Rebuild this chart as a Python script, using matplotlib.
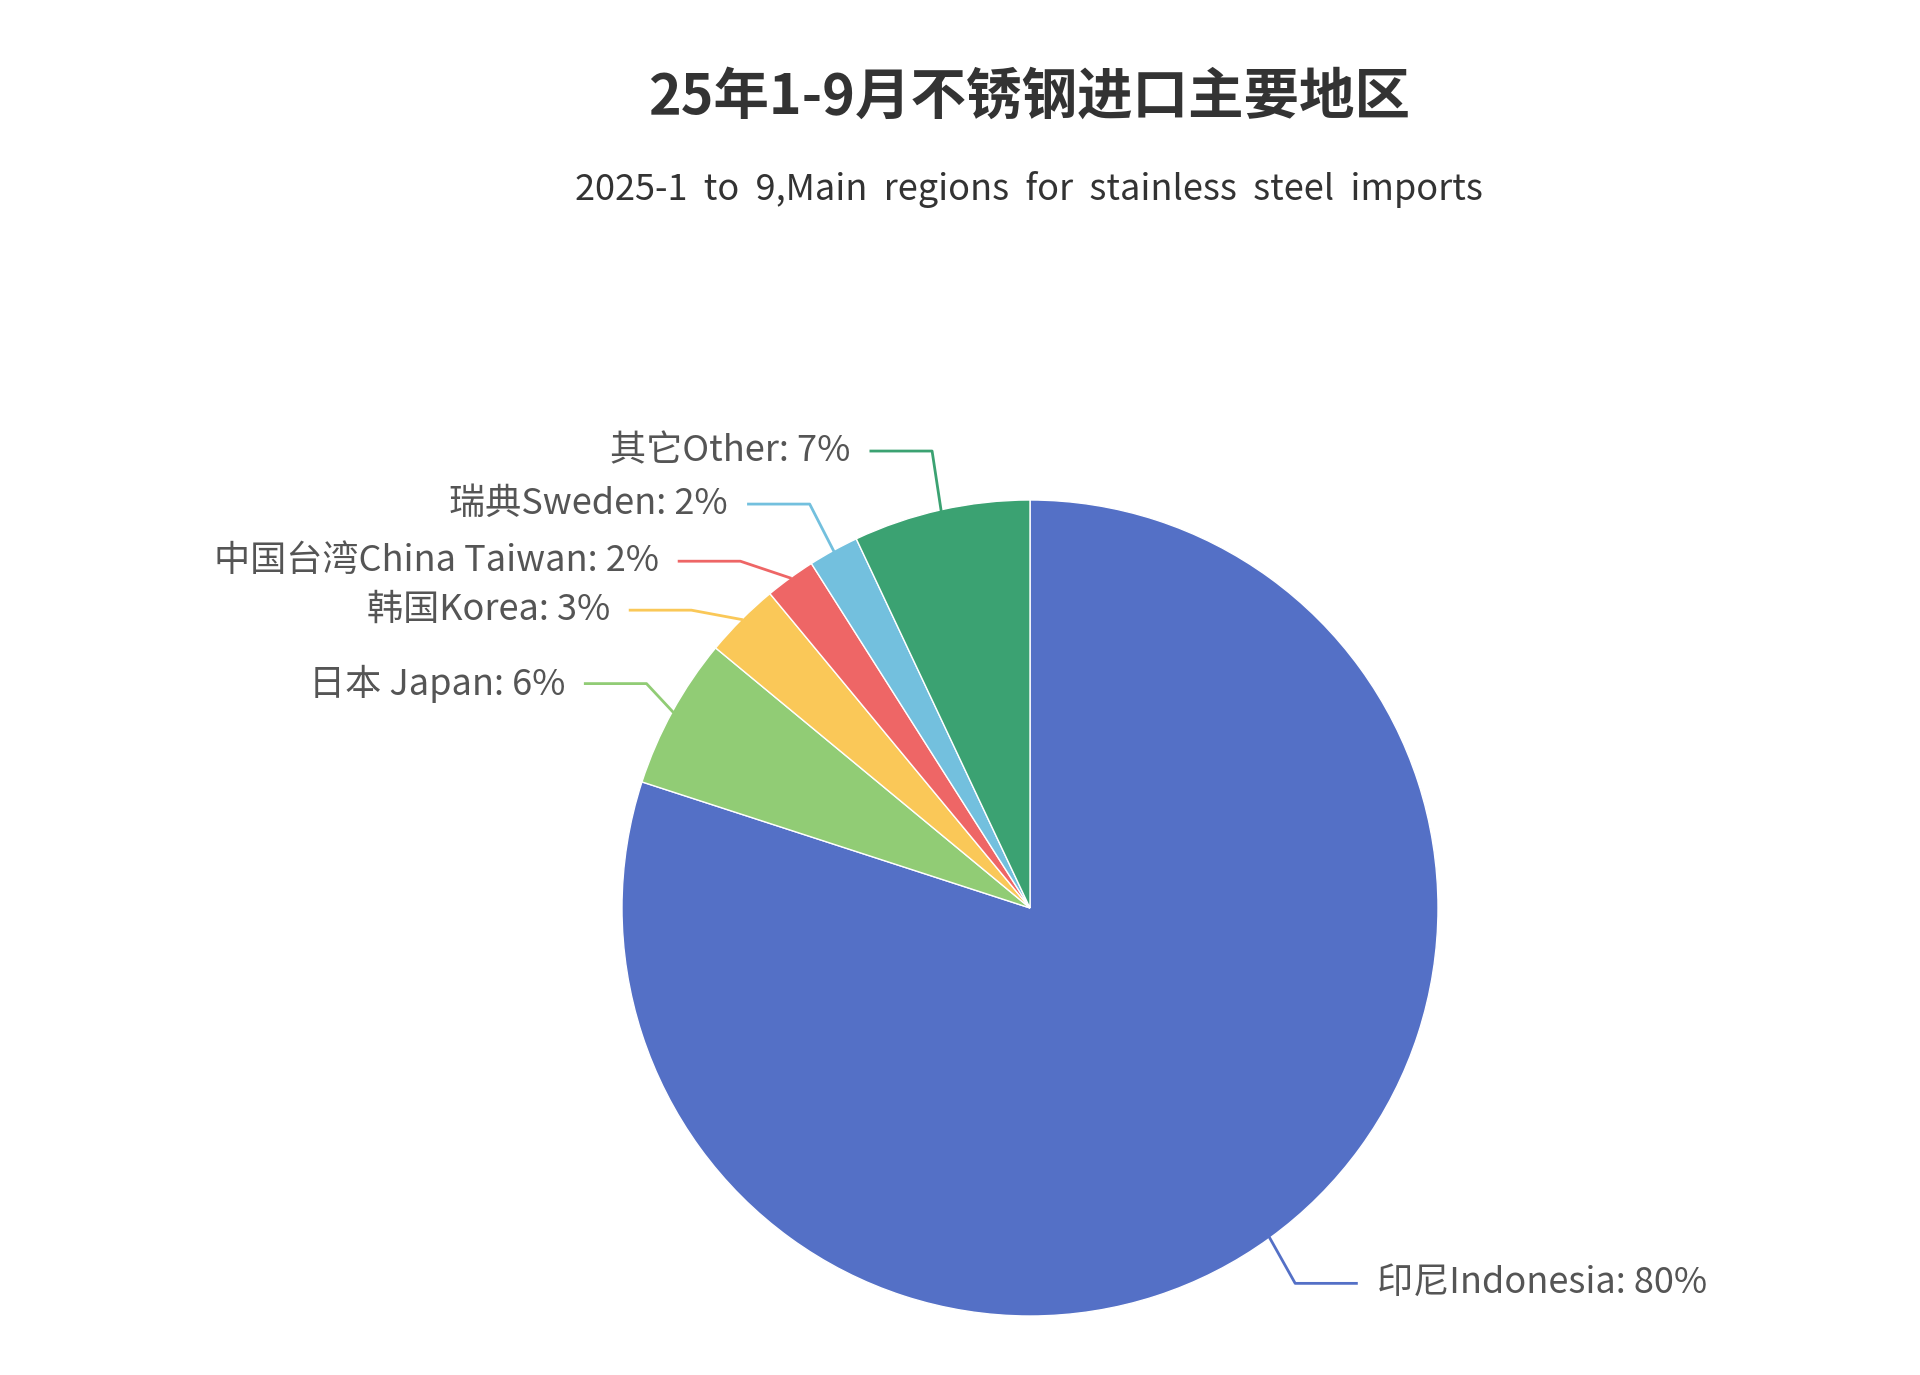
import numpy as np
import matplotlib
matplotlib.use("Agg")
import matplotlib.pyplot as plt

plt.rcParams['font.family'] = ['Noto Sans CJK SC', 'DejaVu Sans']

# data, clockwise from 12 o'clock
names = ["印尼Indonesia", "日本 Japan", "韩国Korea", "中国台湾China Taiwan", "瑞典Sweden", "其它Other"]
values = [80, 6, 3, 2, 2, 7]
colors = ["#5470c6", "#91cc75", "#fac858", "#ee6666", "#73c0de", "#3ba272"]
# label positions (pie radius units, center = 0,0)
label_pos = [(0.85, -0.92), (-1.14, 0.55), (-1.03, 0.73), (-0.91, 0.85), (-0.74, 0.99), (-0.44, 1.12)]

W, H = 1920, 1375
cx, cy, R = 1030, 908, 408
fig = plt.figure(figsize=(W/100, H/100), dpi=100)
ax = fig.add_axes([0, 0, 1, 1])
ax.set_xlim(-cx/R, (W-cx)/R)
ax.set_ylim(-(H-cy)/R, cy/R)
ax.axis('off')

wedges, _ = ax.pie(values, colors=colors, startangle=90, counterclock=False,
                   radius=1, center=(0, 0), frame=True,
                   wedgeprops=dict(edgecolor='white', linewidth=1))
ax.set_xlim(-cx/R, (W-cx)/R)
ax.set_ylim(-(H-cy)/R, cy/R)
ax.axis('off')

for w, name, v, c, (xt, yt) in zip(wedges, names, values, colors, label_pos):
    mid = np.deg2rad((w.theta1 + w.theta2) / 2)
    ex, ey = np.cos(mid), np.sin(mid)
    left = xt < 0
    elbow = xt + 0.2 if left else xt - 0.2
    end = xt + 0.05 if left else xt - 0.05
    ax.plot([ex, elbow, end], [ey, yt, yt], color=c, lw=2)
    ax.text(xt, yt, f"{name}: {v}%", ha='right' if left else 'left', va='center',
            fontsize=26, color='#555555')

fig.text(0.536, 0.929, "25年1-9月不锈钢进口主要地区", ha='center', va='center',
         fontsize=40, fontweight='bold', color='#333333')
fig.text(0.536, 0.862, "2025-1  to  9,Main  regions  for  stainless  steel  imports",
         ha='center', va='center', fontsize=26, color='#333333')

fig.savefig("out.png", dpi=100, facecolor='white')
